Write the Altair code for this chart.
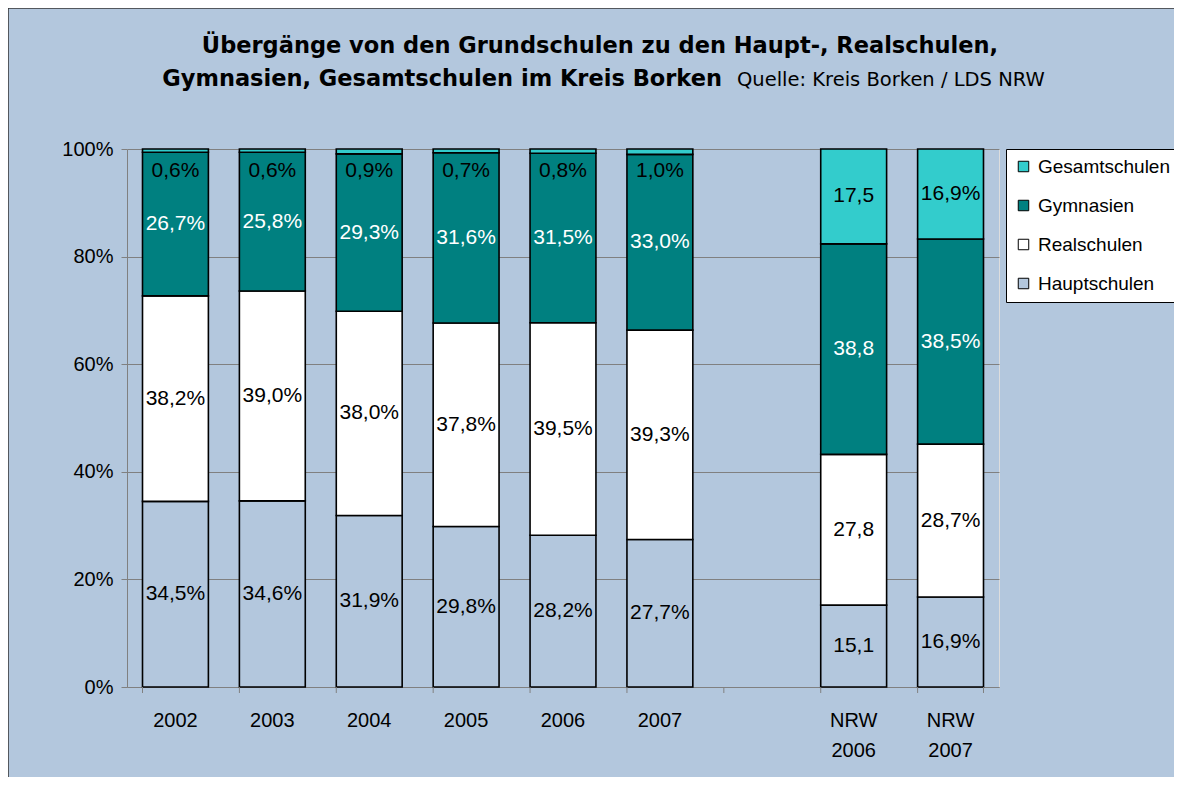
import altair as alt
import pandas as pd

categories = ["2002", "2003", "2004", "2005", "2006", "2007", "gap", "NRW 2006", "NRW 2007"]
bar_cats = ["2002", "2003", "2004", "2005", "2006", "2007", "NRW 2006", "NRW 2007"]
schools = ["Hauptschulen", "Realschulen", "Gymnasien", "Gesamtschulen"]
legend_order = ["Gesamtschulen", "Gymnasien", "Realschulen", "Hauptschulen"]

hauptschulen = [34.5, 34.6, 31.9, 29.8, 28.2, 27.7, 15.1, 16.9]
realschulen = [38.2, 39.0, 38.0, 37.8, 39.5, 39.3, 27.8, 28.7]
gymnasien = [26.7, 25.8, 29.3, 31.6, 31.5, 33.0, 38.8, 38.5]
gesamtschulen = [0.6, 0.6, 0.9, 0.7, 0.8, 1.0, 17.5, 16.9]

lab_hauptschulen = ["34,5%", "34,6%", "31,9%", "29,8%", "28,2%", "27,7%", "15,1", "16,9%"]
lab_realschulen = ["38,2%", "39,0%", "38,0%", "37,8%", "39,5%", "39,3%", "27,8", "28,7%"]
lab_gymnasien = ["26,7%", "25,8%", "29,3%", "31,6%", "31,5%", "33,0%", "38,8", "38,5%"]
lab_gesamtschulen = ["0,6%", "0,6%", "0,9%", "0,7%", "0,8%", "1,0%", "17,5", "16,9%"]

values = [hauptschulen, realschulen, gymnasien, gesamtschulen]
labels = [lab_hauptschulen, lab_realschulen, lab_gymnasien, lab_gesamtschulen]

rows = []
for i, cat in enumerate(bar_cats):
    total = sum(v[i] for v in values)
    cum = 0.0
    for k, school in enumerate(schools):
        v = values[k][i]
        center = (cum + v / 2) / total
        if school == "Gesamtschulen":
            center = min(center, 0.96)
        rows.append({"cat": cat, "school": school, "val": v, "ord": k,
                     "ly": center, "lab": labels[k][i],
                     "white": school == "Gymnasien"})
        cum += v
df = pd.DataFrame(rows)

W, H = 872, 538
BG = "#b3c7dd"

xscale = alt.Scale(domain=categories, paddingInner=0.32, paddingOuter=0.16)
yscale = alt.Scale(domain=[0, 1])

xaxis = alt.Axis(title=None, ticks=False, labelExpr="datum.value == 'gap' ? '' : split(datum.value, ' ')",
                 labelFontSize=20, labelLineHeight=30, labelPadding=23, labelBaseline="top",
                 labelColor="black", domainColor="#808080", labelAngle=0)

bars = alt.Chart(df).mark_bar(stroke="black", strokeWidth=1.6).encode(
    x=alt.X("cat:N", scale=xscale, axis=xaxis, sort=categories),
    y=alt.Y("val:Q", stack="normalize", scale=yscale,
            axis=alt.Axis(title=None, format=".0%", values=[0, 0.2, 0.4, 0.6, 0.8, 1.0],
                          grid=True, gridColor="#808080", gridWidth=1,
                          tickColor="#808080", tickSize=6, labelFontSize=20, labelPadding=8,
                          labelColor="black", domainColor="#808080")),
    color=alt.Color("school:N", scale=alt.Scale(domain=legend_order,
                    range=["#33cccc", "#008080", "#ffffff", BG]),
                    legend=alt.Legend(title=None, orient="none", legendX=879, legendY=0,
                                      fillColor="white", strokeColor="black", padding=8,
                                      symbolType="square", symbolSize=110,
                                      symbolStrokeColor="black", symbolStrokeWidth=1,
                                      labelFontSize=19, rowPadding=19, labelOffset=5,
                                      labelColor="black")),
    order=alt.Order("ord:Q"),
)

txt_black = alt.Chart(df).transform_filter("!datum.white").mark_text(
    fontSize=21, color="black", baseline="middle").encode(
    x=alt.X("cat:N", scale=xscale, sort=categories),
    y=alt.Y("ly:Q", scale=yscale),
    text="lab:N")
txt_white = alt.Chart(df).transform_filter("datum.white").mark_text(
    fontSize=21, color="white", baseline="middle").encode(
    x=alt.X("cat:N", scale=xscale, sort=categories),
    y=alt.Y("ly:Q", scale=yscale),
    text="lab:N")

tick_df = pd.DataFrame({"cat": categories})
xticks = alt.Chart(tick_df).mark_rule(color="#808080", strokeWidth=1).encode(
    x=alt.X("cat:N", scale=xscale, sort=categories, bandPosition=0),
    y=alt.value(H), y2=alt.value(H + 6))
xtick_end = alt.Chart(pd.DataFrame({"cat": [categories[-1]]})).mark_rule(color="#808080", strokeWidth=1).encode(
    x=alt.X("cat:N", scale=xscale, sort=categories, bandPosition=1),
    y=alt.value(H), y2=alt.value(H + 6))

title1 = alt.Chart(pd.DataFrame({"t": ["Übergänge von den Grundschulen zu den Haupt-, Realschulen,"]})).mark_text(
    font="DejaVu Sans", fontSize=22.5, fontWeight="bold", align="center", baseline="alphabetic", color="black").encode(
    text="t:N", x=alt.value(473), y=alt.value(-96))
title2 = alt.Chart(pd.DataFrame({"t": ["Gymnasien, Gesamtschulen im Kreis Borken"]})).mark_text(
    font="DejaVu Sans", fontSize=22.5, fontWeight="bold", align="right", baseline="alphabetic", color="black").encode(
    text="t:N", x=alt.value(595), y=alt.value(-63))
source = alt.Chart(pd.DataFrame({"t": ["Quelle: Kreis Borken / LDS NRW"]})).mark_text(
    font="DejaVu Sans", fontSize=19.5, align="left", baseline="alphabetic", color="black").encode(
    text="t:N", x=alt.value(610), y=alt.value(-63))

border_top = alt.Chart(pd.DataFrame({"a": [0]})).mark_rule(color="#333333", strokeWidth=1.5).encode(
    x=alt.value(-119), x2=alt.value(1100), y=alt.value(-141))
border_left = alt.Chart(pd.DataFrame({"a": [0]})).mark_rule(color="#333333", strokeWidth=1.5).encode(
    x=alt.value(-119), y=alt.value(-141), y2=alt.value(700))

chart = alt.layer(bars, txt_black, txt_white, xticks, xtick_end, title1, title2, source,
                  border_top, border_left).properties(
    width=W, height=H,
    autosize=alt.AutoSizeParams(type="none"),
    padding={"left": 119, "top": 141, "right": 175, "bottom": 90},
    background=BG,
).configure_view(fill="white", stroke="#808080", strokeWidth=1).configure(
    font="Liberation Sans")

chart.save("out.html", embed_options={"renderer": "svg", "actions": False})
